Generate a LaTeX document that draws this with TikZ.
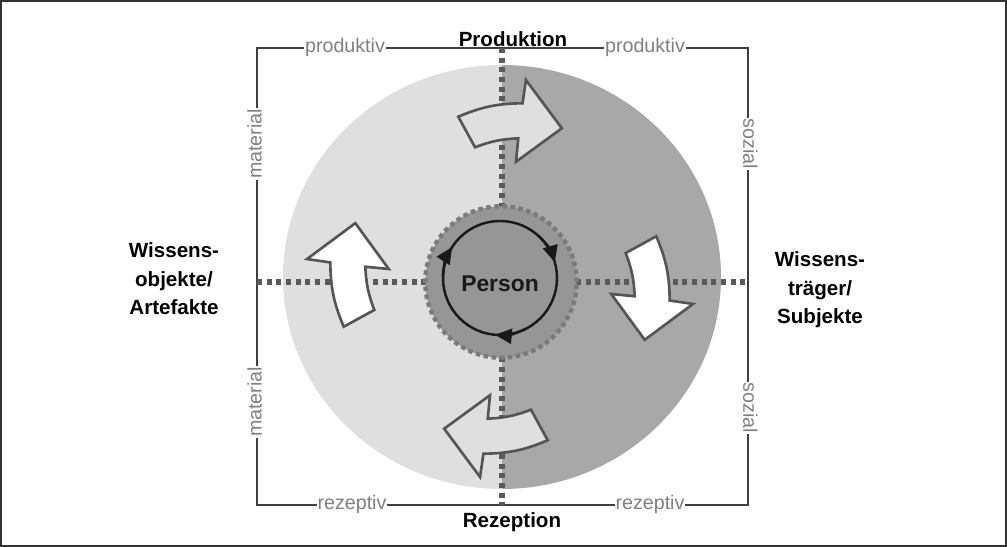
\documentclass[tikz,border=0pt]{standalone}
\usepackage{fontspec}
\setmainfont{Liberation Sans}
\usetikzlibrary{arrows.meta}

\definecolor{hell}{HTML}{DFDFDF}
\definecolor{dunkel}{HTML}{A8A8A8}
\definecolor{kern}{HTML}{969696}
\definecolor{kernrand}{HTML}{7A7A7A}
\definecolor{punkt}{HTML}{5A5A5A}
\definecolor{grau}{HTML}{808080}
\definecolor{rand}{HTML}{555555}

\begin{document}
\begin{tikzpicture}[x=0.02cm, y=0.02cm,
  rahmen/.style={draw=black!75, line width=0.6pt},
  achse/.style={draw=punkt, line width=2.9pt, dash pattern=on 2.9pt off 2.6pt},
  pfeil/.style={draw=rand, line width=1.5pt, line join=miter},
  ring/.style={draw=black!90, line width=1.4pt},
  etikett/.style={fill=white, text=grau, inner xsep=0.5pt, inner ysep=0pt, anchor=mid, font=\fontsize{11.2}{13}\selectfont},
  titel/.style={font=\fontsize{11.7}{16.2}\selectfont\bfseries, align=center}]
\useasboundingbox (0,0) rectangle (1007,547);
\draw[black!80, line width=1pt] (1,1) rectangle (1006,546);

% Kreis, zwei Haelften
\fill[hell] (502,482) arc[start angle=90, end angle=270, x radius=219, y radius=212] -- cycle;
\fill[dunkel] (502,482) arc[start angle=90, end angle=-90, x radius=219, y radius=212] -- cycle;

% Rahmen und Achsen
\coordinate (lo) at (257,499);
\coordinate (ru) at (748,42);
\coordinate (om) at (502,499);
\coordinate (um) at (502,42);
\coordinate (lm) at (257,265);
\coordinate (rm) at (748,265);
\draw[rahmen] (lo) rectangle (ru);
\draw[achse] (om) -- (um);
\draw[achse] (lm) -- (rm);

% gebogene Pfeile
\foreach \dreh/\dx/\dy/\farbe in {0/0/0/hell, 90/6/-2/white, 180/2/5/hell, -90/-10/1/white}{
  \begin{scope}[shift={(502+\dx,266+\dy)}, rotate=\dreh]
    \filldraw[pfeil, fill=\farbe] (104.9:170) to[bend left=11] (83.4:178.9) -- (83.2:202.4)
      -- (68.6:164) -- (83.3:120.1) -- (83.5:143.6) to[bend right=9] (101.4:136.4) -- cycle;
  \end{scope}
}

% Person
\node (person) [circle, minimum size=3.03cm, inner sep=0pt, fill=kern, draw=kernrand,
  line width=2.5pt, dash pattern=on 2.5pt off 2.1pt] at (501,265) {};
\draw[ring] (500,269) circle[radius=57];
\begin{scope}[shift={(500,269)}]
  \foreach \w in {147,16,-95}
    \draw[ring, -{Triangle[length=9.5pt, width=8.5pt]}] (\w+32:57) arc[start angle=\w+32, end angle=\w, radius=57];
\end{scope}
\node (name) [font=\fontsize{13}{15}\selectfont\bfseries, text=black!90] at (500,263) {Person};

% Beschriftung
\node (prod) [titel, anchor=base] at (513,500) {Produktion};
\node (rez) [titel, anchor=base] at (512,19) {Rezeption};
\node (objekte) [titel] at (174,268) {Wissens-\\objekte/\\Artefakte};
\node (traeger) [titel] at (820,257) {Wissens-\\träger/\\Subjekte};

\node (prodl) [etikett] at (345,499) {produktiv};
\node (prodr) [etikett] at (645,499) {produktiv};
\node (rezl) [etikett] at (352,42) {rezeptiv};
\node (rezr) [etikett] at (650,42) {rezeptiv};
\node (mato) [etikett, rotate=90] at (257,403) {material};
\node (matu) [etikett, rotate=90] at (257,145) {material};
\node (sozo) [etikett, rotate=-90] at (748,403) {sozial};
\node (sozu) [etikett, rotate=-90] at (748,139) {sozial};
\end{tikzpicture}
\end{document}
